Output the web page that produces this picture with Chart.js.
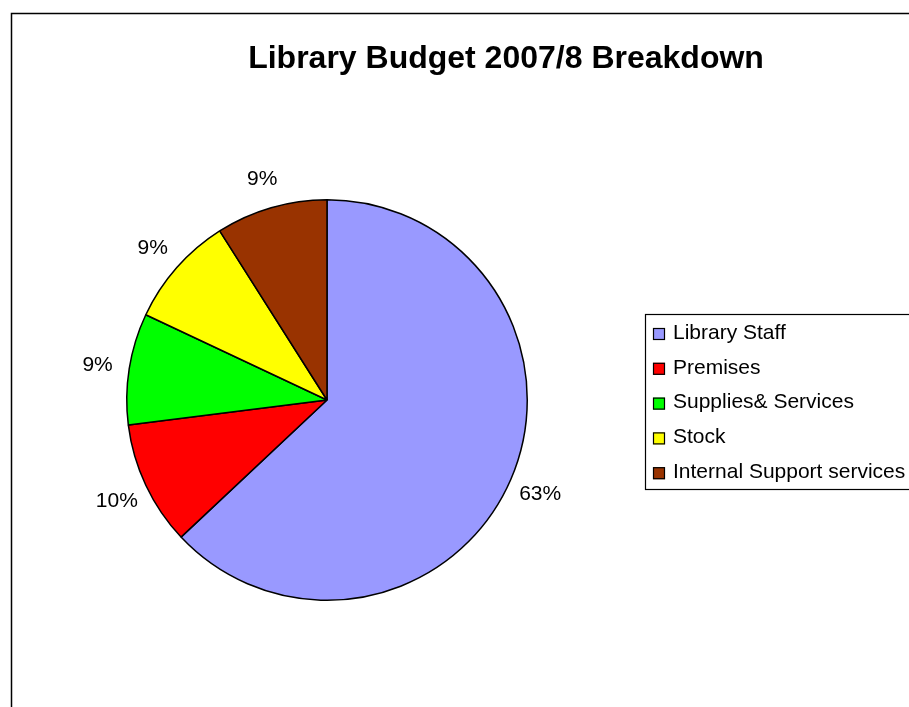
<!DOCTYPE html>
<html>
<head>
<meta charset="utf-8">
<title>Library Budget 2007/8 Breakdown</title>
<script src="https://cdn.jsdelivr.net/npm/chart.js@4.4.0/dist/chart.umd.min.js"></script>
<style>
  html, body { margin: 0; padding: 0; background: #fff; }
  #wrap { width: 909px; height: 707px; }
</style>
</head>
<body>
<div id="wrap"><canvas id="budgetChart" width="909" height="707"></canvas></div>
<script>
const chartTitle = "Library Budget 2007/8 Breakdown";
const categories = ["Library Staff", "Premises", "Supplies& Services", "Stock", "Internal Support services"];
const shares = [63, 10, 9, 9, 9];
const sliceColors = ["#9999ff", "#ff0000", "#00ff00", "#ffff00", "#993300"];

const FONT = '"Liberation Sans", Arial, sans-serif';

// outer frame, title, percent labels and the boxed legend
const decorations = {
  id: "decorations",
  afterDraw(chart) {
    const ctx = chart.ctx;
    const total = shares.reduce((a, b) => a + b, 0);
    ctx.save();

    // frame (only top and left edges fall inside the canvas)
    ctx.strokeStyle = "#000";
    ctx.lineWidth = 1.5;
    ctx.beginPath();
    ctx.moveTo(11.5, 707);
    ctx.lineTo(11.5, 13.5);
    ctx.lineTo(909, 13.5);
    ctx.stroke();

    // title
    ctx.fillStyle = "#000";
    ctx.font = "bold 32px " + FONT;
    ctx.textAlign = "center";
    ctx.textBaseline = "alphabetic";
    ctx.fillText(chartTitle, 506, 68);

    // percent labels outside each slice
    ctx.font = "21px " + FONT;
    ctx.textBaseline = "middle";
    const meta = chart.getDatasetMeta(0);
    meta.data.forEach((arc, i) => {
      const p = arc.getProps(["x", "y", "startAngle", "endAngle", "outerRadius"], true);
      const mid = (p.startAngle + p.endAngle) / 2;
      const d = p.outerRadius + 32;
      const pct = Math.round(shares[i] / total * 100) + "%";
      ctx.fillText(pct, p.x + Math.cos(mid) * d, p.y + Math.sin(mid) * d + 2);
    });

    // legend box
    ctx.lineWidth = 1.2;
    ctx.strokeRect(645.5, 314.5, 280, 175);
    ctx.textAlign = "left";
    categories.forEach((name, i) => {
      const cy = 334 + i * 34.8;
      ctx.fillStyle = sliceColors[i];
      ctx.fillRect(653, cy - 6, 12, 12);
      ctx.strokeStyle = "#000";
      ctx.lineWidth = 1.2;
      ctx.strokeRect(653.5, cy - 5.5, 11, 11);
      ctx.fillStyle = "#000";
      ctx.fillText(name, 673, cy - 1);
    });

    ctx.restore();
  }
};

new Chart(document.getElementById("budgetChart"), {
  type: "pie",
  data: {
    labels: categories,
    datasets: [{
      data: shares,
      backgroundColor: sliceColors,
      borderColor: "#000",
      borderWidth: 1.5
    }]
  },
  options: {
    responsive: false,
    animation: false,
    devicePixelRatio: 1,
    layout: { padding: { left: 126, right: 381, top: 199, bottom: 106 } },
    plugins: {
      legend: { display: false },
      title: { display: false },
      tooltip: { enabled: false }
    }
  },
  plugins: [decorations]
});
</script>
</body>
</html>
